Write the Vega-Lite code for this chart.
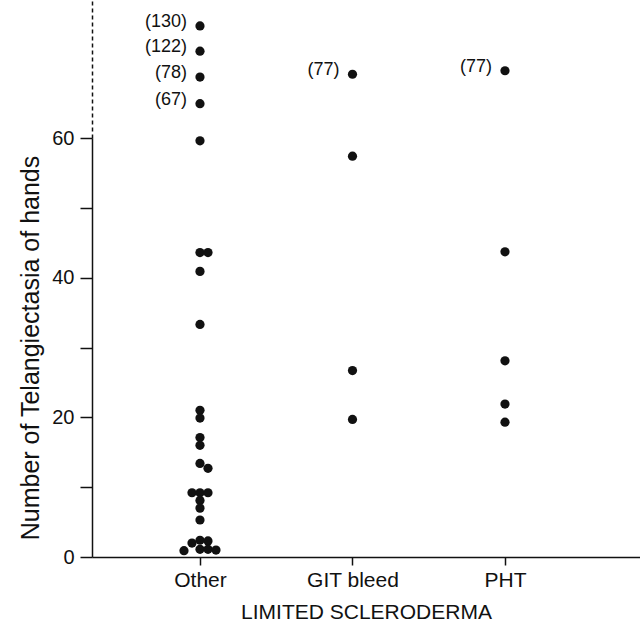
{
  "$schema": "https://vega.github.io/schema/vega-lite/v6.json",
  "padding": {"left": 18, "top": 0, "right": 0, "bottom": 0},
  "spacing": 0,
  "bounds": "flush",
  "datasets": {
    "points": [
      {"group": "Other", "count": 76.0, "slot": 0, "label": "(130)"},
      {"group": "Other", "count": 72.4, "slot": 0, "label": "(122)"},
      {"group": "Other", "count": 68.7, "slot": 0, "label": "(78)"},
      {"group": "Other", "count": 64.9, "slot": 0, "label": "(67)"},
      {"group": "Other", "count": 59.6, "slot": 0, "label": ""},
      {"group": "Other", "count": 43.6, "slot": 0, "label": ""},
      {"group": "Other", "count": 43.6, "slot": 1, "label": ""},
      {"group": "Other", "count": 40.9, "slot": 0, "label": ""},
      {"group": "Other", "count": 33.3, "slot": 0, "label": ""},
      {"group": "Other", "count": 21.0, "slot": 0, "label": ""},
      {"group": "Other", "count": 19.9, "slot": 0, "label": ""},
      {"group": "Other", "count": 17.1, "slot": 0, "label": ""},
      {"group": "Other", "count": 16.0, "slot": 0, "label": ""},
      {"group": "Other", "count": 13.4, "slot": 0, "label": ""},
      {"group": "Other", "count": 12.7, "slot": 1, "label": ""},
      {"group": "Other", "count": 9.2, "slot": -1, "label": ""},
      {"group": "Other", "count": 9.2, "slot": 0, "label": ""},
      {"group": "Other", "count": 9.2, "slot": 1, "label": ""},
      {"group": "Other", "count": 8.1, "slot": 0, "label": ""},
      {"group": "Other", "count": 7.0, "slot": 0, "label": ""},
      {"group": "Other", "count": 5.3, "slot": 0, "label": ""},
      {"group": "Other", "count": 2.0, "slot": -1, "label": ""},
      {"group": "Other", "count": 0.9, "slot": -2, "label": ""},
      {"group": "Other", "count": 2.4, "slot": 0, "label": ""},
      {"group": "Other", "count": 1.1, "slot": 0, "label": ""},
      {"group": "Other", "count": 2.3, "slot": 1, "label": ""},
      {"group": "Other", "count": 1.1, "slot": 1, "label": ""},
      {"group": "Other", "count": 1.0, "slot": 2, "label": ""},
      {"group": "GIT bleed", "count": 69.1, "slot": 0, "label": "(77)"},
      {"group": "GIT bleed", "count": 57.4, "slot": 0, "label": ""},
      {"group": "GIT bleed", "count": 26.7, "slot": 0, "label": ""},
      {"group": "GIT bleed", "count": 19.7, "slot": 0, "label": ""},
      {"group": "PHT", "count": 69.6, "slot": 0, "label": "(77)"},
      {"group": "PHT", "count": 43.7, "slot": 0, "label": ""},
      {"group": "PHT", "count": 28.1, "slot": 0, "label": ""},
      {"group": "PHT", "count": 21.9, "slot": 0, "label": ""},
      {"group": "PHT", "count": 19.3, "slot": 0, "label": ""}
    ]
  },
  "config": {
    "view": {"stroke": null},
    "font": "Liberation Sans",
    "axis": {
      "grid": false,
      "domainColor": "#111",
      "tickColor": "#111",
      "labelColor": "#111",
      "titleColor": "#111",
      "labelFont": "Liberation Sans",
      "titleFont": "Liberation Sans",
      "titleFontWeight": "normal",
      "domainWidth": 1.5,
      "tickWidth": 1.5
    }
  },
  "vconcat": [
    {
      "width": 548,
      "height": 138,
      "data": {"name": "points"},
      "transform": [{"filter": "datum.count >= 60"}],
      "encoding": {
        "x": {
          "field": "group",
          "type": "nominal",
          "scale": {"type": "point", "domain": ["Other", "GIT bleed", "PHT"], "padding": 0.7967, "align": 0.4444},
          "axis": null
        },
        "xOffset": {
          "field": "slot",
          "type": "nominal",
          "scale": {"type": "point", "domain": [-2, -1, 0, 1, 2], "range": [-16, 16], "padding": 0}
        },
        "y": {
          "field": "count",
          "type": "quantitative",
          "scale": {"domain": [60, 79.7], "nice": false, "zero": false},
          "axis": {"title": null, "labels": false, "ticks": false, "domainDash": [4, 3]}
        }
      },
      "layer": [
        {"mark": {"type": "point", "filled": true, "size": 85, "color": "#111", "opacity": 1}},
        {
          "mark": {"type": "text", "align": "right", "baseline": "middle", "dx": -13, "dy": -4, "fontSize": 18, "color": "#111"},
          "encoding": {"text": {"field": "label"}}
        }
      ]
    },
    {
      "width": 548,
      "height": 419,
      "data": {"name": "points"},
      "transform": [{"filter": "datum.count < 60"}],
      "mark": {"type": "point", "filled": true, "size": 85, "color": "#111", "opacity": 1},
      "encoding": {
        "x": {
          "field": "group",
          "type": "nominal",
          "scale": {"type": "point", "domain": ["Other", "GIT bleed", "PHT"], "padding": 0.7967, "align": 0.4444},
          "axis": {"title": "LIMITED SCLERODERMA", "labelAngle": 0, "tickSize": 8, "labelFontSize": 21, "titleFontSize": 21, "labelPadding": 4, "titlePadding": 11}
        },
        "xOffset": {
          "field": "slot",
          "type": "nominal",
          "scale": {"type": "point", "domain": [-2, -1, 0, 1, 2], "range": [-16, 16], "padding": 0}
        },
        "y": {
          "field": "count",
          "type": "quantitative",
          "scale": {"domain": [0, 60], "nice": false},
          "axis": {
            "title": "Number of Telangiectasia of hands",
            "values": [0, 10, 20, 30, 40, 50, 60],
            "labelExpr": "datum.value % 20 === 0 ? datum.label : ''",
            "tickSize": 12,
            "labelPadding": 6,
            "labelFontSize": 20,
            "titleFontSize": 25,
            "titlePadding": 8
          }
        }
      }
    }
  ]
}
